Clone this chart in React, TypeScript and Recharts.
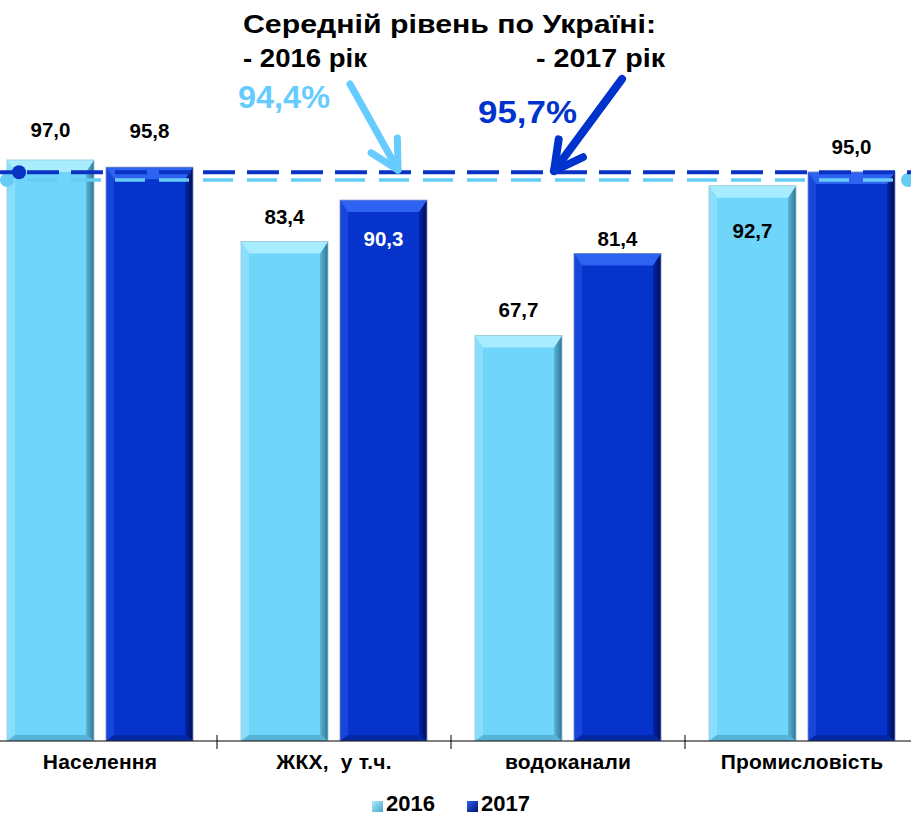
import React from "react";
import { BarChart, Bar, XAxis, YAxis, ReferenceLine, LabelList, Legend } from "recharts";

const categories = ["Населення", "ЖКХ,  у т.ч.", "водоканали", "Промисловість"];
const values2016 = [97.0, 83.4, 67.7, 92.7];
const values2017 = [95.8, 90.3, 81.4, 95.0];
const seriesNames = ["2016", "2017"];
const avg2016 = 94.4;
const avg2017 = 95.7;

const data = categories.map((name, i) => ({
  name,
  y2016: values2016[i],
  y2017: values2017[i],
}));

const FONT = '"Liberation Sans", Arial, sans-serif';
const CHART_W = 936;
const CHART_H = 818;
const HALF_BAND = CHART_W / categories.length / 2;

// label offset from the bar top (label centre), positive = inside the bar
const labelDy2016 = [-30, -25, -26, 45];
const labelDy2017 = [-37, 38, -15, -25];

const palettes: Record<string, any> = {
  light: {
    main: "#70D5FA",
    top: "#A8ECFF",
    left: "#88DEFC",
    rightA: "#5AB6D8",
    rightB: "#2F7593",
    bottom: "#58B4D6",
    stroke: "#9CC7D6",
  },
  dark: {
    main: "#0533CC",
    top: "#2E62F0",
    left: "#1846DA",
    rightA: "#0224A8",
    rightB: "#000F55",
    bottom: "#0328A6",
    stroke: "#7D8FC8",
  },
};

const bevelBar = (key: string) => (props: any) => {
  const { x, y, width: w, height: h, index } = props;
  if (!h || h <= 0) return <g />;
  const p = palettes[key];
  const t = Math.min(12, h / 2);
  const s = 8;
  const b = 6;
  const gid = `rg-${key}-${index}`;
  return (
    <g>
      <defs>
        <linearGradient id={gid} x1="0" y1="0" x2="1" y2="0">
          <stop offset="0%" stopColor={p.rightA} />
          <stop offset="100%" stopColor={p.rightB} />
        </linearGradient>
      </defs>
      <rect x={x} y={y} width={w} height={h} fill={p.main} />
      <polygon points={`${x},${y} ${x + s},${y + t} ${x + s},${y + h - b} ${x},${y + h}`} fill={p.left} />
      <polygon
        points={`${x + w},${y} ${x + w},${y + h} ${x + w - s},${y + h - b} ${x + w - s},${y + t}`}
        fill={`url(#${gid})`}
      />
      <polygon
        points={`${x},${y + h} ${x + s},${y + h - b} ${x + w - s},${y + h - b} ${x + w},${y + h}`}
        fill={p.bottom}
      />
      <polygon points={`${x},${y} ${x + w},${y} ${x + w - s},${y + t} ${x + s},${y + t}`} fill={p.top} />
      <rect x={x} y={y} width={w} height={h} fill="none" stroke={p.stroke} strokeWidth={0.8} />
    </g>
  );
};

const valueLabel = (offsets: number[], insideColor: string) => (props: any) => {
  const { x, y, width, value, index } = props;
  const dy = offsets[index] ?? -22;
  return (
    <text
      x={x + width / 2}
      y={y + dy}
      textAnchor="middle"
      dominantBaseline="central"
      fontFamily={FONT}
      fontWeight={700}
      fontSize={20.5}
      fill={dy > 0 ? insideColor : "#000"}
    >
      {Number(value).toFixed(1).replace(".", ",")}
    </text>
  );
};

const CategoryTick = (props: any) => {
  const { x, payload, index } = props;
  return (
    <g>
      <text
        x={x}
        y={769}
        textAnchor="middle"
        fontFamily={FONT}
        fontWeight={700}
        fontSize={21}
        letterSpacing={0.2}
        fill="#000"
        style={{ whiteSpace: "pre" }}
      >
        {payload.value}
      </text>
      {index < categories.length - 1 && (
        <line x1={x + HALF_BAND} x2={x + HALF_BAND} y1={735} y2={749} stroke="#000" strokeWidth={1} />
      )}
    </g>
  );
};

// end markers of the average lines, drawn through the reference line's label
const AvgDots = (props: any) => {
  const { viewBox, color, startInset, endDot } = props;
  if (!viewBox) return null;
  const { x, y, width } = viewBox;
  return (
    <g>
      <circle cx={x + startInset} cy={y} r={7} fill={color} />
      {endDot && <circle cx={x + width - 11} cy={y} r={7} fill={color} />}
    </g>
  );
};

const renderLegend = () => (
  <div
    style={{
      display: "flex",
      justifyContent: "center",
      alignItems: "center",
      gap: 32,
      fontFamily: FONT,
      fontWeight: 700,
      fontSize: 22,
      lineHeight: "22px",
      color: "#000",
      paddingTop: 16,
    }}
  >
    {seriesNames.map((n, i) => (
      <span key={n} style={{ display: "flex", alignItems: "center", lineHeight: "22px" }}>
        <span
          style={{
            display: "inline-block",
            width: 11,
            height: 11,
            marginRight: 3,
            marginTop: 5,
            background: i === 0 ? "linear-gradient(135deg,#A8ECFF,#4AA6C8)" : "linear-gradient(135deg,#2E62F0,#001070)",
          }}
        />
        {n}
      </span>
    ))}
  </div>
);

const Arrow = ({ from, to, color, w }: any) => {
  const [x1, y1] = from;
  const [x2, y2] = to;
  const back = Math.atan2(y1 - y2, x1 - x2);
  const L = 32;
  const sp = 0.49;
  const a1 = [x2 + L * Math.cos(back - sp), y2 + L * Math.sin(back - sp)];
  const a2 = [x2 + L * Math.cos(back + sp), y2 + L * Math.sin(back + sp)];
  return (
    <g stroke={color} strokeWidth={w} strokeLinecap="round" fill="none">
      <line x1={x1} y1={y1} x2={x2} y2={y2} />
      <polyline points={`${a1[0]},${a1[1]} ${x2},${y2} ${a2[0]},${a2[1]}`} strokeLinejoin="round" />
    </g>
  );
};

export default function App() {
  return (
    <div style={{ position: "absolute", left: 0, top: 0, width: 911, height: 818, overflow: "hidden", background: "#fff" }}>
      <div style={{ position: "absolute", left: -17, top: 0 }}>
        <BarChart
          width={CHART_W}
          height={CHART_H}
          data={data}
          margin={{ top: 142, right: 0, bottom: 0, left: 0 }}
          barCategoryGap={24}
          barGap={12}
        >
          <XAxis
            dataKey="name"
            height={36}
            axisLine={{ stroke: "#000", strokeWidth: 1.2 }}
            tickLine={false}
            tick={<CategoryTick />}
            interval={0}
          />
          <YAxis yAxisId="left" hide domain={[0, 100]} allowDataOverflow />
          <YAxis yAxisId="avg" hide domain={[0, 100.8]} allowDataOverflow />
          <Legend verticalAlign="bottom" height={41} content={renderLegend} />
          <Bar yAxisId="left" dataKey="y2016" name={seriesNames[0]} fill="#70D5FA" shape={bevelBar("light")} isAnimationActive={false}>
            <LabelList dataKey="y2016" content={valueLabel(labelDy2016, "#000")} />
          </Bar>
          <Bar yAxisId="left" dataKey="y2017" name={seriesNames[1]} fill="#0533CC" shape={bevelBar("dark")} isAnimationActive={false}>
            <LabelList dataKey="y2017" content={valueLabel(labelDy2017, "#fff")} />
          </Bar>
          <ReferenceLine
            yAxisId="avg"
            y={avg2016}
            stroke="#66CCF5"
            strokeWidth={3.5}
            strokeDasharray="30 14"
            label={<AvgDots color="#66CCF5" startInset={24} endDot />}
          />
          <ReferenceLine
            yAxisId="avg"
            y={avg2017}
            stroke="#0A33C4"
            strokeWidth={4}
            strokeDasharray="32 12"
            label={<AvgDots color="#0A33C4" startInset={36} endDot={false} />}
          />
        </BarChart>
      </div>
      <svg width={911} height={818} style={{ position: "absolute", left: 0, top: 0, pointerEvents: "none" }}>
        <g fontFamily={FONT} fontWeight={700}>
          <text x={243} y={33} fontSize={25} fill="#000" textLength={413} lengthAdjust="spacingAndGlyphs">
            Середній рівень по Україні:
          </text>
          <text x={243} y={67} fontSize={26} fill="#000" textLength={124} lengthAdjust="spacingAndGlyphs">
            - 2016 рік
          </text>
          <text x={536} y={67} fontSize={26} fill="#000" textLength={129} lengthAdjust="spacingAndGlyphs">
            - 2017 рік
          </text>
          <text x={238} y={108} fontSize={31} fill="#66CCFF" textLength={92} lengthAdjust="spacingAndGlyphs">
            {avg2016.toFixed(1).replace(".", ",")}%
          </text>
          <text x={478} y={123} fontSize={32} fill="#0033CC" textLength={99} lengthAdjust="spacingAndGlyphs">
            {avg2017.toFixed(1).replace(".", ",")}%
          </text>
        </g>
        <Arrow from={[350, 84]} to={[398, 170]} color="#66CCFF" w={7} />
        <Arrow from={[622, 79]} to={[554, 171]} color="#0033CC" w={8} />
      </svg>
    </div>
  );
}
